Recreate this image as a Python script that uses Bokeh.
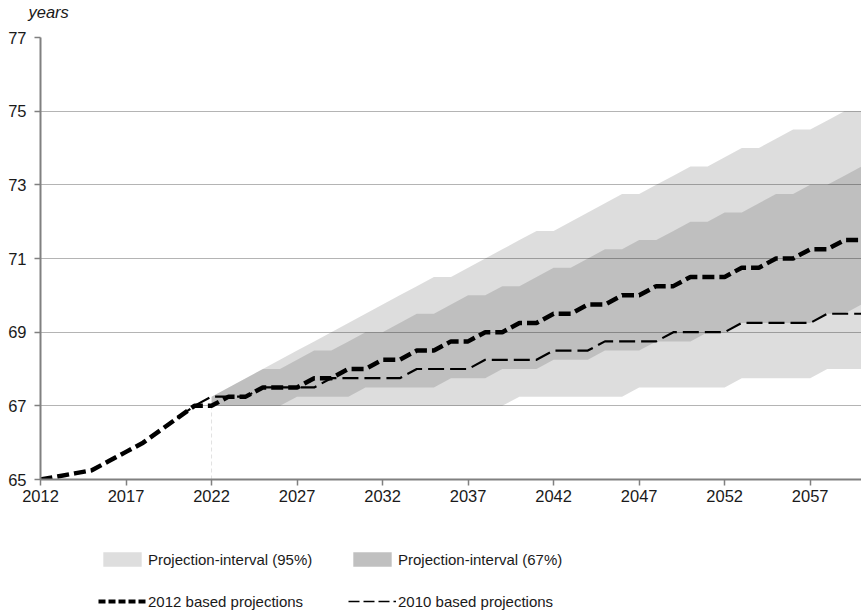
from bokeh.plotting import figure
from bokeh.layouts import column
from bokeh.models import Range1d, FixedTicker, Legend, LegendItem
from bokeh.embed import file_html
from bokeh.resources import INLINE

# ---- data -------------------------------------------------------------
years_2012 = list(range(2012, 2061))
age_2012 = [65.0, 65.083, 65.167, 65.25, 65.5, 65.75, 66.0, 66.333, 66.667, 67.0,
            67.0, 67.25, 67.25, 67.5, 67.5, 67.5, 67.75, 67.75, 68.0, 68.0,
            68.25, 68.25, 68.5, 68.5, 68.75, 68.75, 69.0, 69.0, 69.25, 69.25,
            69.5, 69.5, 69.75, 69.75, 70.0, 70.0, 70.25, 70.25, 70.5, 70.5,
            70.5, 70.75, 70.75, 71.0, 71.0, 71.25, 71.25, 71.5, 71.5]

years_2010 = list(range(2020, 2061))
age_2010 = [66.667, 67.0, 67.25, 67.25, 67.25, 67.5, 67.5, 67.5, 67.5,
            67.75, 67.75, 67.75, 67.75, 67.75, 68.0, 68.0, 68.0, 68.0,
            68.25, 68.25, 68.25, 68.25, 68.5, 68.5, 68.5,
            68.75, 68.75, 68.75, 68.75, 69.0, 69.0, 69.0, 69.0,
            69.25, 69.25, 69.25, 69.25, 69.25, 69.5, 69.5, 69.5]

years_band = list(range(2022, 2061))
low_95 = [67.0, 67.0, 67.0, 67.0, 67.0, 67.0, 67.0, 67.0, 67.0, 67.0,
          67.0, 67.0, 67.0, 67.0, 67.0, 67.0, 67.0, 67.0,
          67.25, 67.25, 67.25, 67.25, 67.25, 67.25, 67.25,
          67.5, 67.5, 67.5, 67.5, 67.5, 67.5,
          67.75, 67.75, 67.75, 67.75, 67.75, 68.0, 68.0, 68.0]
high_95 = [67.25, 67.5, 67.75, 68.0, 68.25, 68.5, 68.75, 69.0, 69.25, 69.5,
           69.75, 70.0, 70.25, 70.5, 70.5, 70.75, 71.0, 71.25, 71.5, 71.75,
           71.75, 72.0, 72.25, 72.5, 72.75, 72.75, 73.0, 73.25, 73.5, 73.5,
           73.75, 74.0, 74.0, 74.25, 74.5, 74.5, 74.75, 75.0, 75.0]
low_67 = [67.0, 67.0, 67.0, 67.0, 67.0, 67.25, 67.25, 67.25, 67.25,
          67.5, 67.5, 67.5, 67.5, 67.5, 67.75, 67.75, 67.75,
          68.0, 68.0, 68.0, 68.25, 68.25, 68.25, 68.5, 68.5, 68.5,
          68.75, 68.75, 68.75, 69.0, 69.0,
          69.25, 69.25, 69.25, 69.25, 69.25, 69.5, 69.5, 69.75]
high_67 = [67.25, 67.5, 67.75, 68.0, 68.0, 68.25, 68.5, 68.5, 68.75, 69.0,
           69.0, 69.25, 69.5, 69.5, 69.75, 70.0, 70.0, 70.25, 70.25, 70.5,
           70.75, 70.75, 71.0, 71.25, 71.25, 71.5, 71.5, 71.75, 72.0, 72.0,
           72.25, 72.25, 72.5, 72.75, 72.75, 73.0, 73.0, 73.25, 73.5]

projection_start = 2022
x_ticks = [2012, 2017, 2022, 2027, 2032, 2037, 2042, 2047, 2052, 2057]
y_ticks = [65, 67, 69, 71, 73, 75, 77]

FONT = "Liberation Sans"
NAN = float("nan")

# ---- top strip with the unit label -------------------------------------
t = figure(width=861, height=22, output_backend="svg", toolbar_location=None,
           x_range=Range1d(0, 1), y_range=Range1d(0, 1),
           x_axis_location=None, y_axis_location=None, min_border=0,
           title="years")
t.outline_line_color = None
t.grid.visible = False
t.title.align = "left"
t.title.offset = -12
t.title.standoff = 0
t.title.text_font = FONT
t.title.text_font_size = "16.5px"
t.title.text_font_style = "italic"
t.title.text_color = "#1a1a1a"

# ---- main chart -------------------------------------------------------
p = figure(width=861, height=493, output_backend="svg", toolbar_location=None,
           x_range=Range1d(2012, 2060), y_range=Range1d(65, 77),
           min_border_left=40, min_border_right=0, min_border_top=15,
           min_border_bottom=36)
p.outline_line_color = None
p.background_fill_color = "white"

p.xgrid.visible = False
p.ygrid.ticker = FixedTicker(ticks=y_ticks)
p.ygrid.grid_line_color = "#b4b4b4"
p.ygrid.grid_line_width = 1.2

for ax, ticks in ((p.xaxis[0], x_ticks), (p.yaxis[0], y_ticks)):
    ax.ticker = FixedTicker(ticks=ticks)
    ax.axis_line_color = "#808080"
    ax.axis_line_width = 2
    ax.major_tick_line_color = "#808080"
    ax.major_tick_line_width = 1.5
    ax.major_tick_out = 6
    ax.major_tick_in = 0
    ax.minor_tick_line_color = None
    ax.major_label_text_font = FONT
    ax.major_label_text_font_size = "16.5px"
    ax.major_label_text_color = "#1a1a1a"
p.xaxis.major_label_standoff = 4
p.yaxis.major_label_standoff = 8

# bands (semi-transparent so the gridlines show through)
p.varea(x=years_band, y1=low_95, y2=high_95, fill_color="black", fill_alpha=0.133)
p.varea(x=years_band, y1=low_67, y2=high_67, fill_color="black", fill_alpha=0.133)

# faint marker at the start of the projection
p.segment(x0=[projection_start], y0=[65], x1=[projection_start], y1=[67],
          line_color="#e2e2e2", line_width=1, line_dash="4 3")

# lines
p.line(years_2010, age_2010, line_color="black", line_width=2.2, line_dash="16 6")
p.line(years_2012, age_2012, line_color="black", line_width=4.5, line_dash="12 5")

# ---- legend strip -----------------------------------------------------
q = figure(width=861, height=98, output_backend="svg", toolbar_location=None,
           x_range=Range1d(0, 1), y_range=Range1d(0, 1),
           x_axis_location=None, y_axis_location=None, min_border=0)
q.outline_line_color = None
q.grid.visible = False

# legend swatches only (NaN data: nothing is drawn in the strip itself)
lg95 = q.varea(x=[NAN], y1=[NAN], y2=[NAN], fill_color="#dedede")
lg67 = q.varea(x=[NAN], y1=[NAN], y2=[NAN], fill_color="#c0c0c0")
lg12 = q.line(x=[NAN], y=[NAN], line_color="black", line_width=4, line_dash="7 3")
lg10 = q.line(x=[NAN], y=[NAN], line_color="black", line_width=1.6, line_dash="11 4")

legend = Legend(items=[
    LegendItem(label="Projection-interval (95%)", renderers=[lg95]),
    LegendItem(label="Projection-interval (67%)", renderers=[lg67]),
    LegendItem(label="2012 based projections", renderers=[lg12]),
    LegendItem(label="2010 based projections", renderers=[lg10]),
], location=(58, 3), orientation="horizontal", ncols=2)
legend.padding = 0
legend.margin = 0
legend.spacing = 24
legend.glyph_width = 48
legend.glyph_height = 18
legend.label_height = 18
legend.label_width = 176
legend.label_standoff = 2
legend.label_text_font = FONT
legend.label_text_font_size = "15px"
legend.label_text_color = "#1a1a1a"
legend.background_fill_alpha = 0
legend.border_line_alpha = 0
q.add_layout(legend, "center")

layout = column(t, p, q, spacing=0)
open("out.html", "w").write(file_html(layout, INLINE))
